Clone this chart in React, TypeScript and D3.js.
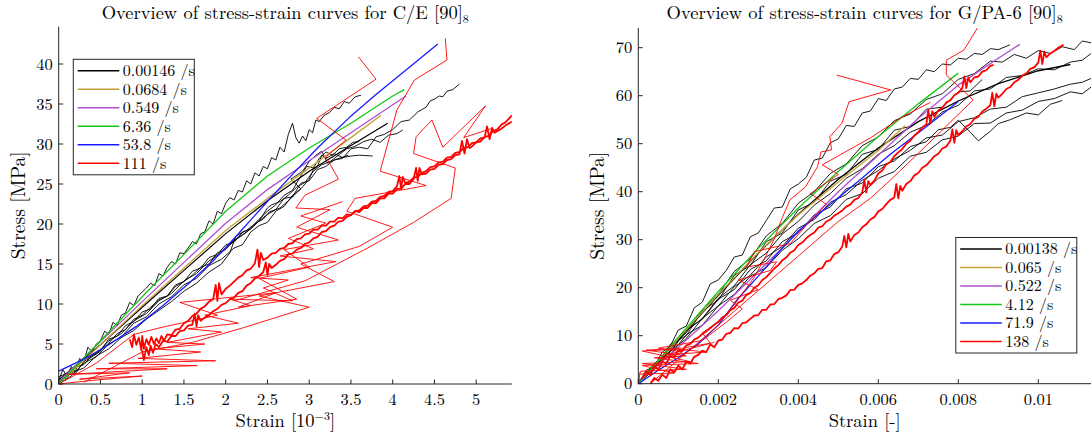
import React from "react";
import * as d3 from "d3";

type P = [number, number];

// ---------------- C/E [90]8 (strain in 1e-3, stress MPa) ----------------
const ceLegend = ["0.00146 /s", "0.0684 /s", "0.549 /s", "6.36 /s", "53.8 /s", "111 /s"];
const ceXTicks = [0, 0.5, 1, 1.5, 2, 2.5, 3, 3.5, 4, 4.5, 5];
const ceYTicks = [0, 5, 10, 15, 20, 25, 30, 35, 40];

const ceK1: P[] = [[0,0.5],[0.05,1.8],[0.1,0.9],[0.15,2.2],[0.2,1.5],[0.25,3.2],[0.3,2.8],[0.35,4.6],[0.4,4.0],[0.45,5.0],[0.5,5.4],[0.55,6.6],[0.6,6.2],[0.65,7.7],[0.7,7.3],[0.75,8.6],[0.8,8.9],[0.85,10.2],[0.9,9.8],[0.95,11.0],[1.0,11.5],[1.05,12.0],[1.1,12.6],[1.15,12.3],[1.2,13.8],[1.25,13.5],[1.3,14.6],[1.35,15.3],[1.4,15.0],[1.45,16.4],[1.5,16.3],[1.55,17.0],[1.6,17.8],[1.65,17.5],[1.7,18.8],[1.75,19.0],[1.8,20.4],[1.85,20.0],[1.9,21.6],[1.95,21.3],[2.0,22.6],[2.05,23.3],[2.1,23.0],[2.15,24.2],[2.2,24.0],[2.25,25.4],[2.3,25.0],[2.35,26.4],[2.4,26.0],[2.45,27.2],[2.5,26.9],[2.55,28.3],[2.6,28.0],[2.65,29.6],[2.7,29.0],[2.75,31.2],[2.8,32.6],[2.84,30.8],[2.88,30.1],[2.92,31.0],[2.96,30.4],[3.0,31.8],[3.04,31.4],[3.08,33.0],[3.12,32.8],[3.18,33.6],[3.24,33.9],[3.3,34.6],[3.36,34.4],[3.42,35.3],[3.48,35.1],[3.55,35.9],[3.62,36.1]];
const ceK2: P[] = [[0,0],[0.1,1.2],[0.2,1.3],[0.3,2.8],[0.4,3.4],[0.5,4.1],[0.6,5.6],[0.7,6.0],[0.8,7.3],[0.9,7.8],[1.0,9.0],[1.1,9.4],[1.2,10.7],[1.3,11.0],[1.4,12.4],[1.5,12.8],[1.6,14.1],[1.7,14.5],[1.8,15.8],[1.9,16.2],[2.0,17.4],[2.1,17.7],[2.2,19.0],[2.3,19.4],[2.4,20.4],[2.5,21.2],[2.6,21.8],[2.7,23.2],[2.8,23.4],[2.9,25.1],[3.0,25.4],[3.1,26.8],[3.2,27.2],[3.3,28.0],[3.4,28.2],[3.5,29.4],[3.6,29.6],[3.7,29.4],[3.8,30.9],[3.9,31.2],[4.0,31.8],[4.1,32.8],[4.2,33.0],[4.3,34.0],[4.4,34.6],[4.45,35.4],[4.5,35.6],[4.56,36.0],[4.6,35.9],[4.65,36.6],[4.72,36.8],[4.8,37.5]];
const ceK3: P[] = [[0,0.4],[0.1,0.8],[0.2,2.1],[0.3,2.4],[0.4,3.6],[0.5,4.2],[0.6,5.1],[0.7,6.3],[0.8,6.8],[0.9,8.1],[1.0,8.6],[1.1,9.6],[1.2,10.5],[1.3,11.0],[1.4,12.2],[1.5,12.8],[1.6,13.6],[1.7,14.6],[1.8,15.0],[1.9,16.4],[2.0,16.8],[2.1,17.9],[2.2,18.6],[2.3,19.4],[2.4,20.4],[2.5,22.0],[2.55,22.4],[2.65,22.8],[2.75,23.6],[2.85,24.6],[2.95,25.2],[3.05,26.6],[3.15,27.4],[3.25,27.8],[3.35,28.6],[3.45,29.4],[3.55,29.7],[3.65,30.3],[3.75,30.6],[3.85,30.2],[3.95,31.1],[4.05,31.3],[4.12,31.75]];
const ceK4: P[] = [[0,0],[0.15,1.0],[0.3,2.6],[0.45,3.4],[0.6,5.0],[0.75,5.9],[0.9,7.6],[1.05,8.4],[1.2,10.0],[1.35,10.9],[1.5,12.4],[1.65,13.2],[1.8,14.8],[1.95,15.6],[2.1,17.0],[2.2,17.4],[2.3,19.0],[2.4,19.8],[2.5,20.2],[2.6,21.6],[2.7,22.2],[2.8,23.6],[2.9,24.4],[3.0,25.6],[3.05,26.8],[3.1,27.2],[3.15,28.6],[3.2,28.2],[3.3,28.8],[3.4,28.3],[3.5,28.5],[3.6,28.6],[3.76,28.5]];
const ceK5: P[] = [[0,0.2],[0.15,1.4],[0.3,2.0],[0.45,3.5],[0.6,4.4],[0.75,5.8],[0.9,6.7],[1.05,8.1],[1.2,9.2],[1.35,10.3],[1.5,11.6],[1.65,12.6],[1.8,14.0],[1.95,15.0],[2.05,16.4],[2.12,18.5],[2.25,19.2],[2.36,20.1],[2.45,20.6],[2.52,21.5],[2.65,22.0],[2.76,23.0],[2.9,24.4],[2.78,25.6],[2.92,26.6],[3.0,27.8],[3.08,28.6],[3.15,29.1],[3.22,27.6],[3.3,28.0],[3.47,28.6]];
const ceK6: P[] = [[0,0.9],[0.15,1.6],[0.3,3.0],[0.45,3.8],[0.6,5.4],[0.75,6.3],[0.9,7.9],[1.05,8.8],[1.2,10.4],[1.35,11.3],[1.5,12.9],[1.65,13.8],[1.8,15.4],[1.95,16.4],[2.1,18.0],[2.25,19.0],[2.4,20.6],[2.5,21.6],[2.6,22.4],[2.7,23.6],[2.8,24.2],[2.9,26.0],[2.97,27.2],[3.05,27.0],[3.12,28.2],[3.2,29.0],[3.28,28.6],[3.36,29.4],[3.45,29.6],[3.52,30.2],[3.6,30.3]];
const ceKFit: P[] = [[0,0.5],[0.5,4.9],[1,9.6],[1.5,14.2],[2,18.8],[2.5,22.9],[3,26.6],[3.5,29.8],[3.94,32.6]];
const ceGold: P[] = [[0,0],[0.5,4.9],[1,9.8],[1.5,14.5],[2,19.2],[2.5,23.2],[3,27.0],[3.5,30.8],[3.86,33.6]];
const cePurple: P[] = [[0,0.3],[0.5,5.3],[1,10.3],[1.5,15.2],[2,20.1],[2.5,24.3],[3,27.9],[3.5,31.4],[4,34.9],[4.16,36.0]];
const ceGreen: P[] = [[0,0],[0.5,5.4],[1,10.9],[1.5,16.2],[2,21.6],[2.5,26.0],[3,29.5],[3.5,32.6],[4,36.0],[4.14,36.8]];
const ceBlue: P[] = [[0,1.6],[0.3,3.1],[0.6,4.9],[0.93,7.2],[1.25,9.8],[1.56,12.6],[1.85,15.4],[2.12,18.4],[2.48,22.6],[2.8,26.2],[3.1,29.5],[3.48,33.3],[3.8,36.2],[4.2,39.6],[4.54,42.5]];
const ceRA: P[] = [[0.85,5.6],[0.88,4.6],[0.9,6.2],[0.93,4.9],[0.96,5.8],[0.99,4.2],[1.0,6.0],[1.02,4.4],[1.05,5.6],[1.08,4.9],[1.11,5.9],[1.14,5.0],[1.17,5.7],[1.2,5.1],[1.23,6.0],[1.26,5.4],[1.3,6.2],[1.35,6.1],[1.4,6.8],[1.45,6.9],[1.5,7.6],[1.55,7.9],[1.6,8.5],[1.65,8.8],[1.7,9.4],[1.75,9.7],[1.8,10.3],[1.85,10.6],[1.88,12.4],[1.9,10.4],[1.92,12.6],[1.95,11.2],[2.0,11.9],[2.05,12.3],[2.1,12.8],[2.15,13.3],[2.2,13.6],[2.25,14.2],[2.3,14.4],[2.35,15.1],[2.38,16.8],[2.4,14.6],[2.42,16.4],[2.45,15.5],[2.5,15.8],[2.55,16.3],[2.6,16.4],[2.65,16.9],[2.7,17.0],[2.75,17.5],[2.8,17.6],[2.85,18.1],[2.9,18.2],[2.95,18.7],[3.0,18.8],[3.05,19.3],[3.1,19.3],[3.15,19.8],[3.2,19.8],[3.25,20.3],[3.3,20.3],[3.35,20.8],[3.4,20.7],[3.45,21.2],[3.5,21.1],[3.55,21.6],[3.6,21.5],[3.65,22.0],[3.7,22.0],[3.75,22.6],[3.8,22.6],[3.85,23.2],[3.9,23.2],[3.95,23.8],[4.0,23.8],[4.05,24.4],[4.1,24.4],[4.15,25.0],[4.2,25.0],[4.25,25.6],[4.28,27.0],[4.3,25.4],[4.32,27.0],[4.35,26.2],[4.4,26.3],[4.45,26.8],[4.5,26.9],[4.55,27.4],[4.6,27.5],[4.65,28.0],[4.7,28.1],[4.75,28.6],[4.8,28.7],[4.83,30.4],[4.86,28.8],[4.89,30.6],[4.92,29.5],[4.95,29.7],[5.0,30.2],[5.05,30.3],[5.1,30.9],[5.15,31.0],[5.2,31.6],[5.25,31.8],[5.3,32.4],[5.35,32.7],[5.43,33.6]];
const ceRB: P[] = [[1.0,4.2],[1.02,3.0],[1.05,4.6],[1.08,3.6],[1.1,4.8],[1.13,3.9],[1.16,5.0],[1.2,4.6],[1.25,5.4],[1.3,5.3],[1.35,6.0],[1.4,6.0],[1.45,6.6],[1.5,6.7],[1.55,7.3],[1.6,7.4],[1.63,8.8],[1.65,7.2],[1.67,8.6],[1.7,7.9],[1.75,8.3],[1.8,8.6],[1.85,9.1],[1.9,9.4],[1.95,9.9],[2.0,10.1],[2.05,10.6],[2.1,10.8],[2.15,11.4],[2.2,11.6],[2.25,12.3],[2.3,12.6],[2.35,13.2],[2.4,13.5],[2.45,14.0],[2.48,15.2],[2.5,13.6],[2.52,15.0],[2.55,14.5],[2.6,14.9],[2.65,15.4],[2.7,15.6],[2.75,16.2],[2.8,16.3],[2.85,16.8],[2.9,17.0],[2.95,17.5],[3.0,17.7],[3.05,18.2],[3.1,18.4],[3.15,19.0],[3.2,19.1],[3.25,19.6],[3.3,19.8],[3.35,20.3],[3.4,20.4],[3.45,20.9],[3.5,21.1],[3.55,21.6],[3.6,21.7],[3.65,22.2],[3.7,22.3],[3.75,22.8],[3.8,22.9],[3.85,23.4],[3.9,23.5],[3.95,24.0],[4.0,24.1],[4.05,24.7],[4.08,26.0],[4.1,24.4],[4.12,25.9],[4.15,25.1],[4.2,25.3],[4.25,25.8],[4.3,25.9],[4.35,26.4],[4.4,26.6],[4.45,27.1],[4.5,27.2],[4.55,27.7],[4.6,27.8],[4.65,28.3],[4.7,28.4],[4.75,28.9],[4.8,29.0],[4.85,29.5],[4.9,29.6],[4.95,30.1],[5.0,30.2],[5.05,30.7],[5.1,30.8],[5.13,32.2],[5.16,30.6],[5.19,32.0],[5.22,31.4],[5.25,31.6],[5.3,31.9],[5.35,32.3],[5.43,32.8]];
const ceR1: P[] = [[0,0],[0.35,0.4],[1.0,1.0],[0.25,0.6],[0.85,1.4],[0.1,1.2],[1.3,1.9],[0.45,1.9],[1.66,2.3],[0.6,2.6],[1.88,2.9],[0.95,3.2],[1.7,4.0],[1.15,4.4],[1.75,5.0],[1.3,5.2],[1.95,6.5],[1.55,6.9],[2.15,7.6],[1.75,8.6],[2.3,9.8],[2.05,10.6],[2.8,10.4],[2.45,12.0],[2.75,13.0],[2.3,13.3],[3.32,15.3],[2.65,16.0],[3.05,16.9],[2.75,18.2],[3.2,20.1],[2.9,21.0],[3.4,22.8]];
const ceR2: P[] = [[0,0],[0.45,2.6],[0.9,6.2],[1.2,7.0],[1.9,8.6],[1.45,10.2],[2.6,11.4],[2.15,9.6],[2.85,10.6],[2.4,13.2],[3.0,14.6],[2.7,16.8],[3.35,18.0],[2.85,19.6],[3.25,21.8],[2.84,22.0],[2.95,23.6],[3.35,25.6],[3.2,28.4],[3.44,30.5],[3.09,33.2],[3.8,38.1],[3.59,40.9]];
const ceR3: P[] = [[0.3,0.2],[1.0,4.0],[1.6,5.2],[2.2,7.0],[3.0,9.6],[2.4,11.0],[3.3,12.8],[2.9,15.0],[3.6,17.2],[4.0,19.6],[3.45,21.6],[3.55,23.2],[4.4,24.8],[3.85,26.6],[4.05,34.25],[4.26,38.0],[4.65,40.5],[4.63,43.2]];
const ceR4: P[] = [[2.1,10.4],[2.95,12.9],[3.7,17.0],[4.25,20.2],[4.7,23.2],[4.75,27.0],[4.25,28.8],[4.28,30.9],[4.47,33.0],[4.6,29.6],[5.11,34.75],[4.85,30.8],[5.2,32.0]];

// ---------------- G/PA-6 [90]8 (strain -, stress MPa) ----------------
const gpLegend = ["0.00138 /s", "0.065 /s", "0.522 /s", "4.12 /s", "71.9 /s", "138 /s"];
const gpXTicks = [0, 0.002, 0.004, 0.006, 0.008, 0.01];
const gpYTicks = [0, 10, 20, 30, 40, 50, 60, 70];

const gpK1: P[] = [[0,0],[0.0002,2.8],[0.0004,3.6],[0.0006,6.6],[0.0008,7.8],[0.001,11.2],[0.0012,12.0],[0.0014,15.8],[0.0016,17.0],[0.0018,20.8],[0.002,21.6],[0.0022,23.6],[0.0024,26.4],[0.0026,26.8],[0.0028,30.6],[0.003,31.4],[0.0032,34.0],[0.0034,36.6],[0.0036,36.8],[0.0038,40.6],[0.004,41.6],[0.0042,43.0],[0.0044,46.6],[0.0046,47.0],[0.0048,50.2],[0.005,51.0],[0.0052,53.8],[0.0054,53.6],[0.0056,56.4],[0.0058,56.8],[0.006,59.4],[0.0062,59.0],[0.0064,61.4],[0.0066,61.8],[0.0068,63.6],[0.007,63.4],[0.0072,65.4],[0.0074,65.0],[0.0076,66.6],[0.0078,66.4],[0.008,67.8],[0.0082,67.6],[0.0084,68.8],[0.0086,68.6],[0.0088,69.8],[0.009,69.6],[0.00929,70.6]];
const gpK2: P[] = [[0,0.4],[0.0004,3.2],[0.0008,7.8],[0.0012,10.6],[0.0016,15.4],[0.002,18.6],[0.0024,23.4],[0.0028,26.0],[0.0032,30.8],[0.0036,33.4],[0.004,37.6],[0.0044,40.0],[0.0048,43.8],[0.0052,45.8],[0.0056,49.6],[0.006,51.4],[0.0064,54.8],[0.0068,56.2],[0.0072,59.2],[0.0076,60.4],[0.008,63.4],[0.0084,64.6],[0.0088,67.2],[0.0091,67.0],[0.0094,68.6],[0.0097,67.8],[0.01,69.4],[0.0103,68.8],[0.0106,70.2],[0.0109,69.6],[0.0111,71.4],[0.01132,71.0]];
const gpK3: P[] = [[0,0],[0.0004,4.0],[0.0008,6.6],[0.0012,11.0],[0.0016,13.6],[0.002,17.8],[0.0024,20.4],[0.0028,24.8],[0.0032,27.2],[0.0036,31.2],[0.004,33.8],[0.0044,37.2],[0.0048,39.6],[0.0052,42.8],[0.0056,44.8],[0.006,47.8],[0.0064,49.6],[0.0068,52.4],[0.0072,53.8],[0.0076,56.6],[0.008,58.0],[0.0084,61.0],[0.0088,61.4],[0.0092,63.8],[0.0096,64.2],[0.01,65.6],[0.0104,65.4],[0.0108,67.0],[0.0111,67.4],[0.01132,68.8]];
const gpK4: P[] = [[0,0],[0.0004,3.0],[0.0008,6.8],[0.0012,9.4],[0.0016,13.6],[0.002,16.2],[0.0024,20.2],[0.0028,22.6],[0.0032,26.4],[0.0036,28.6],[0.004,32.4],[0.0044,34.2],[0.0048,37.8],[0.0052,39.4],[0.0056,42.4],[0.006,44.4],[0.0064,46.8],[0.0068,48.6],[0.0072,51.2],[0.0076,51.8],[0.008,54.6],[0.0084,55.4],[0.0088,57.2],[0.0092,57.6],[0.0096,59.8],[0.01,60.6],[0.0104,61.4],[0.0108,62.4],[0.0111,62.8],[0.01132,63.6]];
const gpK5: P[] = [[0,0],[0.0004,3.6],[0.0008,6.0],[0.0012,10.2],[0.0016,12.2],[0.002,16.2],[0.0024,18.6],[0.0028,22.4],[0.0032,24.2],[0.0036,27.8],[0.004,30.2],[0.0044,33.4],[0.0048,35.0],[0.0052,38.4],[0.0056,39.6],[0.006,42.8],[0.0064,44.2],[0.0068,47.4],[0.0072,48.2],[0.0076,50.8],[0.008,51.6],[0.0084,54.2],[0.0088,54.3],[0.0092,56.4],[0.0096,57.0],[0.01,58.8],[0.0104,59.4],[0.0108,60.8],[0.0111,60.4],[0.01132,61.8]];
const gpK6: P[] = [[0,0],[0.0004,4.2],[0.0008,6.8],[0.0012,11.2],[0.0016,13.4],[0.002,17.6],[0.0024,19.6],[0.0028,23.8],[0.0032,25.6],[0.0036,29.6],[0.004,31.4],[0.0044,35.2],[0.0048,36.8],[0.0052,40.6],[0.0056,41.8],[0.006,45.2],[0.0064,46.4],[0.0068,49.4],[0.0072,50.4],[0.0075,52.9],[0.0078,53.4],[0.008,54.9],[0.0083,52.4],[0.0085,50.6],[0.0088,52.6],[0.009,54.2],[0.0093,55.0],[0.0097,56.4],[0.01,56.0],[0.0103,58.2],[0.0106,59.0]];
const gpK7: P[] = [[0,0.6],[0.0004,3.0],[0.0008,8.2],[0.0012,10.0],[0.0016,15.2],[0.002,17.4],[0.0024,22.6],[0.0028,24.6],[0.0032,29.6],[0.0036,31.4],[0.004,36.2],[0.0044,37.8],[0.0048,42.2],[0.0052,43.6],[0.0056,47.8],[0.006,48.8],[0.0064,52.8],[0.0068,53.6],[0.0072,57.2],[0.0076,57.6],[0.008,60.8],[0.0083,61.0],[0.0086,63.4]];
const gpKFit: P[] = [[0,0],[0.001,9.3],[0.002,18.4],[0.003,27.2],[0.004,35.3],[0.005,42.6],[0.006,49.1],[0.007,54.6],[0.008,58.9],[0.009,62.5],[0.01,65.2],[0.0108,66.5]];
const gpGold: P[] = [[0,0],[0.001,9.4],[0.002,18.6],[0.003,27.3],[0.004,35.2],[0.005,42.0],[0.006,48.6],[0.00667,53.8]];
const gpPurple: P[] = [[0,0.3],[0.001,7.6],[0.002,15.2],[0.003,23.4],[0.004,31.6],[0.005,40.0],[0.006,47.6],[0.007,55.3],[0.008,62.2],[0.009,67.8],[0.00954,70.7]];
const gpGreen: P[] = [[0,0],[0.001,9.7],[0.002,19.2],[0.003,28.2],[0.004,36.6],[0.005,44.2],[0.006,51.5],[0.007,58.3],[0.008,64.7]];
const gpBlue: P[] = [[0,0],[0.0005,2.8],[0.001,5.4],[0.0015,8.3],[0.002,12.2],[0.0025,17.8],[0.003,22.4],[0.0035,27.3],[0.004,31.8],[0.0046,36.0],[0.0055,42.2],[0.0063,47.8],[0.0069,51.6],[0.0075,55.5],[0.008,58.8]];
const gpRA: P[] = [[0.0003,0.0],[0.0004,1.2],[0.0005,0.6],[0.0006,1.9],[0.0007,1.2],[0.0008,3.0],[0.0009,2.4],[0.001,3.8],[0.0011,3.0],[0.0012,4.6],[0.0013,4.2],[0.0014,5.6],[0.0015,6.0],[0.0016,6.9],[0.0017,6.6],[0.0018,8.2],[0.0019,7.6],[0.002,9.0],[0.0021,9.2],[0.0022,10.4],[0.0023,10.6],[0.0024,11.6],[0.0025,11.5],[0.0026,12.6],[0.0027,12.8],[0.0028,13.5],[0.0029,14.2],[0.003,14.3],[0.0031,15.4],[0.0032,15.4],[0.0033,16.5],[0.0034,16.6],[0.0035,17.6],[0.0036,17.9],[0.0037,18.4],[0.0038,19.5],[0.0039,19.6],[0.004,20.6],[0.0041,20.9],[0.0042,21.6],[0.0043,22.5],[0.0044,23.0],[0.0045,23.9],[0.0046,24.1],[0.0047,25.5],[0.0048,25.7],[0.0049,27.0],[0.005,27.4],[0.0051,28.6],[0.00515,30.8],[0.0052,28.4],[0.00525,31.2],[0.0053,29.6],[0.0054,31.0],[0.0055,31.5],[0.0056,32.6],[0.0057,33.2],[0.0058,34.2],[0.0059,34.7],[0.006,35.9],[0.0061,36.4],[0.0062,37.4],[0.0063,38.3],[0.0064,38.8],[0.00645,41.6],[0.0065,38.6],[0.00655,41.2],[0.0066,40.2],[0.0067,41.6],[0.0068,42.2],[0.0069,43.4],[0.007,43.9],[0.0071,45.0],[0.0072,45.5],[0.0073,46.4],[0.0074,47.4],[0.0075,47.9],[0.0076,49.0],[0.0077,49.4],[0.0078,50.6],[0.00785,53.0],[0.0079,50.2],[0.00795,52.8],[0.008,51.8],[0.0081,52.6],[0.0082,53.6],[0.0083,54.1],[0.0084,55.2],[0.0085,55.6],[0.0086,56.7],[0.0087,57.3],[0.0088,58.0],[0.00885,60.6],[0.0089,57.8],[0.00895,60.4],[0.009,59.6],[0.0091,60.4],[0.0092,61.4],[0.0093,61.8],[0.0094,62.8],[0.0095,63.3],[0.0096,64.2],[0.0097,64.6],[0.0098,65.6],[0.0099,65.9],[0.01,66.9],[0.01005,69.4],[0.0101,66.6],[0.01015,69.2],[0.0102,68.0],[0.0103,68.8],[0.0104,69.3],[0.0105,70.0],[0.01063,70.6]];
const gpRB: P[] = [[0.0001,1.2],[0.0002,2.6],[0.0003,1.8],[0.0004,3.6],[0.0005,3.0],[0.0006,4.6],[0.0007,4.2],[0.0008,5.8],[0.0009,5.4],[0.001,7.0],[0.0011,6.8],[0.0012,8.0],[0.0013,8.3],[0.0014,9.2],[0.0015,9.6],[0.0016,10.4],[0.0017,10.9],[0.0018,11.6],[0.0019,12.3],[0.002,12.9],[0.0021,13.8],[0.0022,14.3],[0.0023,15.3],[0.0024,15.8],[0.0025,16.9],[0.0026,17.3],[0.0027,18.5],[0.0028,18.9],[0.0029,20.0],[0.003,20.5],[0.0031,21.6],[0.0032,22.2],[0.0033,23.1],[0.0034,24.0],[0.0035,24.7],[0.0036,25.7],[0.0037,26.3],[0.0038,27.3],[0.0039,27.8],[0.004,28.9],[0.0041,29.4],[0.0042,30.3],[0.0043,31.0],[0.0044,31.5],[0.0045,32.5],[0.0046,32.8],[0.0047,33.8],[0.0048,34.2],[0.0049,35.0],[0.005,35.5],[0.0051,36.1],[0.0052,36.9],[0.0053,37.3],[0.0054,38.3],[0.0055,38.7],[0.0056,39.9],[0.00565,42.4],[0.0057,39.8],[0.00575,42.2],[0.0058,41.4],[0.0059,42.3],[0.006,43.8],[0.0061,44.4],[0.0062,45.7],[0.0063,46.2],[0.0064,47.4],[0.0065,48.2],[0.0066,48.9],[0.0067,50.0],[0.0068,50.6],[0.0069,51.7],[0.007,52.4],[0.0071,53.4],[0.0072,54.0],[0.00725,57.0],[0.0073,54.2],[0.00735,56.8],[0.0074,55.6],[0.0075,56.9],[0.0076,57.5],[0.0077,58.6],[0.0078,59.0],[0.0079,60.1],[0.008,60.6],[0.0081,61.6],[0.00815,64.0],[0.0082,61.6],[0.00825,63.8],[0.0083,62.8],[0.0084,63.8],[0.0085,64.0],[0.0086,65.0],[0.0087,65.3],[0.0088,66.2],[0.00888,66.4]];
const gpRC: P[] = [[0.0003,0],[0.001,5.0],[0.002,12.2],[0.003,19.4],[0.004,26.6],[0.005,33.8],[0.0058,38.6],[0.0063,42.4],[0.0072,49.6],[0.00837,59.1],[0.0077,64.3],[0.0077,67.4],[0.00814,69.5],[0.0085,74.4],[0.0089,82]];
const gpRD: P[] = [[0,0],[0.00005,2.6],[0.0012,3.0],[0.0001,4.2],[0.0013,4.6],[0.0001,6.8],[0.001,7.2],[0.0017,6.6],[0.0007,6.0],[0.0018,8.4],[0.0016,10.6],[0.0021,13.4],[0.0025,17.6],[0.0029,22.2],[0.0032,26.8],[0.0034,30.2],[0.0036,34.6],[0.00379,38.3],[0.00418,41.0],[0.00448,45.2],[0.00457,48.3],[0.00483,48.7],[0.00479,51.5],[0.00509,54.25],[0.00527,58.75],[0.00631,61.2],[0.00496,64.3]];
const gpRE: P[] = [[0.0001,1.0],[0.0006,5.0],[0.0011,6.6],[0.0005,7.4],[0.0016,9.0],[0.0022,12.8],[0.0026,15.6],[0.0023,17.4],[0.003,19.6],[0.0025,21.6],[0.0033,23.6],[0.00346,25.4],[0.00271,24.3],[0.0029,27.5],[0.0038,29.2],[0.0042,33.0],[0.0047,37.4],[0.0043,39.6],[0.005,43.6],[0.0046,45.6],[0.0058,51.2],[0.0066,55.6],[0.0073,58.6]];
const gpRF: P[] = [[0,2.0],[0.0009,2.2],[0.0001,3.8],[0.0015,4.2],[0.0004,5.4],[0.0012,5.8],[0.0002,7.0],[0.0011,7.4],[0.0019,8.6]];

const COLORS = ["#000000", "#c4a035", "#b04fd0", "#16c816", "#1a1aff", "#ff0000"];
const FONT = "'Latin Modern Roman','CMU Serif','Liberation Serif',serif";

type Series = { data: P[]; c: number; w: number };

const ceSeries: Series[] = [
  { data: ceK1, c: 0, w: 0.9 }, { data: ceK2, c: 0, w: 0.9 }, { data: ceK3, c: 0, w: 0.9 },
  { data: ceK4, c: 0, w: 0.9 }, { data: ceK5, c: 0, w: 0.9 }, { data: ceK6, c: 0, w: 0.9 },
  { data: ceKFit, c: 0, w: 1.2 },
  { data: ceGold, c: 1, w: 1.3 }, { data: cePurple, c: 2, w: 1.3 }, { data: ceGreen, c: 3, w: 1.3 },
  { data: ceBlue, c: 4, w: 1.3 },
  { data: ceR1, c: 5, w: 0.9 }, { data: ceR2, c: 5, w: 0.9 }, { data: ceR3, c: 5, w: 0.9 }, { data: ceR4, c: 5, w: 0.9 },
  { data: ceRA, c: 5, w: 1.8 }, { data: ceRB, c: 5, w: 1.8 },
];
const gpSeries: Series[] = [
  { data: gpK1, c: 0, w: 0.9 }, { data: gpK2, c: 0, w: 0.9 }, { data: gpK3, c: 0, w: 0.9 },
  { data: gpK4, c: 0, w: 0.9 }, { data: gpK5, c: 0, w: 0.9 }, { data: gpK6, c: 0, w: 0.9 },
  { data: gpK7, c: 0, w: 0.9 }, { data: gpKFit, c: 0, w: 1.3 },
  { data: gpGold, c: 1, w: 1.3 }, { data: gpPurple, c: 2, w: 1.3 }, { data: gpGreen, c: 3, w: 1.3 },
  { data: gpBlue, c: 4, w: 1.3 },
  { data: gpRC, c: 5, w: 0.9 }, { data: gpRD, c: 5, w: 0.9 }, { data: gpRE, c: 5, w: 0.9 }, { data: gpRF, c: 5, w: 0.9 },
  { data: gpRA, c: 5, w: 1.8 }, { data: gpRB, c: 5, w: 1.8 },
];

type PanelProps = {
  id: string;
  x0: number; x1: number; y0: number; y1: number;
  xMax: number; yMax: number;
  xTicks: number[]; yTicks: number[];
  fmt: (v: number) => string;
  series: Series[];
  title: string;
  xlabel: React.ReactNode;
  ylabelX: number;
  legend: string[];
  legX: number; legY: number;
};

function Panel(p: PanelProps) {
  const xs = d3.scaleLinear().domain([0, p.xMax]).range([p.x0, p.x1]);
  const ys = d3.scaleLinear().domain([0, p.yMax]).range([p.y0, p.y1]);
  const line = d3.line<P>().x((d) => xs(d[0])).y((d) => ys(d[1]));
  const cx = (p.x0 + p.x1) / 2;
  const cy = (p.y0 + p.y1) / 2;
  const tl = 4.5;
  const legW = 121, rowH = 18.5;
  return (
    <g>
      <defs>
        <clipPath id={p.id}>
          <rect x={p.x0 - 1} y={p.y1} width={p.x1 - p.x0 + 1} height={p.y0 - p.y1 + 1} />
        </clipPath>
      </defs>
      <g clipPath={`url(#${p.id})`} fill="none" strokeLinejoin="round">
        {p.series.map((s, i) => (
          <path key={i} d={line(s.data) || ""} stroke={COLORS[s.c]} strokeWidth={s.w} />
        ))}
      </g>
      <line x1={p.x0} x2={p.x1} y1={p.y0} y2={p.y0} stroke="#262626" strokeWidth={1} />
      <line x1={p.x0} x2={p.x0} y1={p.y0} y2={p.y1} stroke="#262626" strokeWidth={1} />
      {p.xTicks.map((t) => (
        <g key={"x" + t}>
          <line x1={xs(t)} x2={xs(t)} y1={p.y0} y2={p.y0 - tl} stroke="#262626" strokeWidth={1} />
          <text x={xs(t)} y={p.y0 + 21} textAnchor="middle" fontSize={16.5}>{p.fmt(t)}</text>
        </g>
      ))}
      {p.yTicks.map((t) => (
        <g key={"y" + t}>
          <line x1={p.x0} x2={p.x0 + tl} y1={ys(t)} y2={ys(t)} stroke="#262626" strokeWidth={1} />
          <text x={p.x0 - 6} y={ys(t) + 5.6} textAnchor="end" fontSize={16.5}>{t}</text>
        </g>
      ))}
      <text x={cx} y={19} textAnchor="middle" fontSize={18.5}>
        {p.title}
        <tspan fontSize={12} dy={4}>8</tspan>
      </text>
      <text x={cx} y={427} textAnchor="middle" fontSize={18.5}>{p.xlabel}</text>
      <text transform={`translate(${p.ylabelX},${cy}) rotate(-90)`} textAnchor="middle" fontSize={19.5}>Stress [MPa]</text>
      <rect x={p.legX} y={p.legY} width={legW} height={rowH * 6 + 4.5} fill="#fff" stroke="#262626" strokeWidth={1} />
      {p.legend.map((l, i) => {
        const yy = p.legY + 11.4 + i * rowH;
        return (
          <g key={l}>
            <line x1={p.legX + 4.4} x2={p.legX + 46} y1={yy} y2={yy} stroke={COLORS[i]} strokeWidth={1.5} />
            <text x={p.legX + 49.4} y={yy + 5.5} fontSize={16}>{l}</text>
          </g>
        );
      })}
    </g>
  );
}

export default function App() {
  return (
    <svg width={1092} height={437} style={{ position: "absolute", left: 0, top: 0, fontFamily: FONT }} fill="#000">
      <rect width={1092} height={437} fill="#fff" />
      <Panel
        id="clipL" x0={58.7} x1={511.8} y0={384} y1={26.7}
        xMax={(511.8 - 58.7) / 83.5} yMax={(384 - 26.7) / 8}
        xTicks={ceXTicks} yTicks={ceYTicks} fmt={(v) => String(v)}
        series={ceSeries}
        title="Overview of stress-strain curves for C/E [90]"
        xlabel={<>Strain [10<tspan fontSize={12} dy={-7}>−3</tspan><tspan dy={7}>]</tspan></>}
        ylabelX={25}
        legend={ceLegend} legX={73.3} legY={59.3}
      />
      <Panel
        id="clipR" x0={638.3} x1={1091} y0={383.7} y1={27.9}
        xMax={(1091 - 638.3) / 40000} yMax={(383.7 - 27.9) / 4.8}
        xTicks={gpXTicks} yTicks={gpYTicks} fmt={(v) => (v === 0 ? "0" : String(+v.toFixed(3)))}
        series={gpSeries}
        title="Overview of stress-strain curves for G/PA-6 [90]"
        xlabel="Strain [-]"
        ylabelX={604}
        legend={gpLegend} legX={955.8} legY={237.5}
      />
    </svg>
  );
}
